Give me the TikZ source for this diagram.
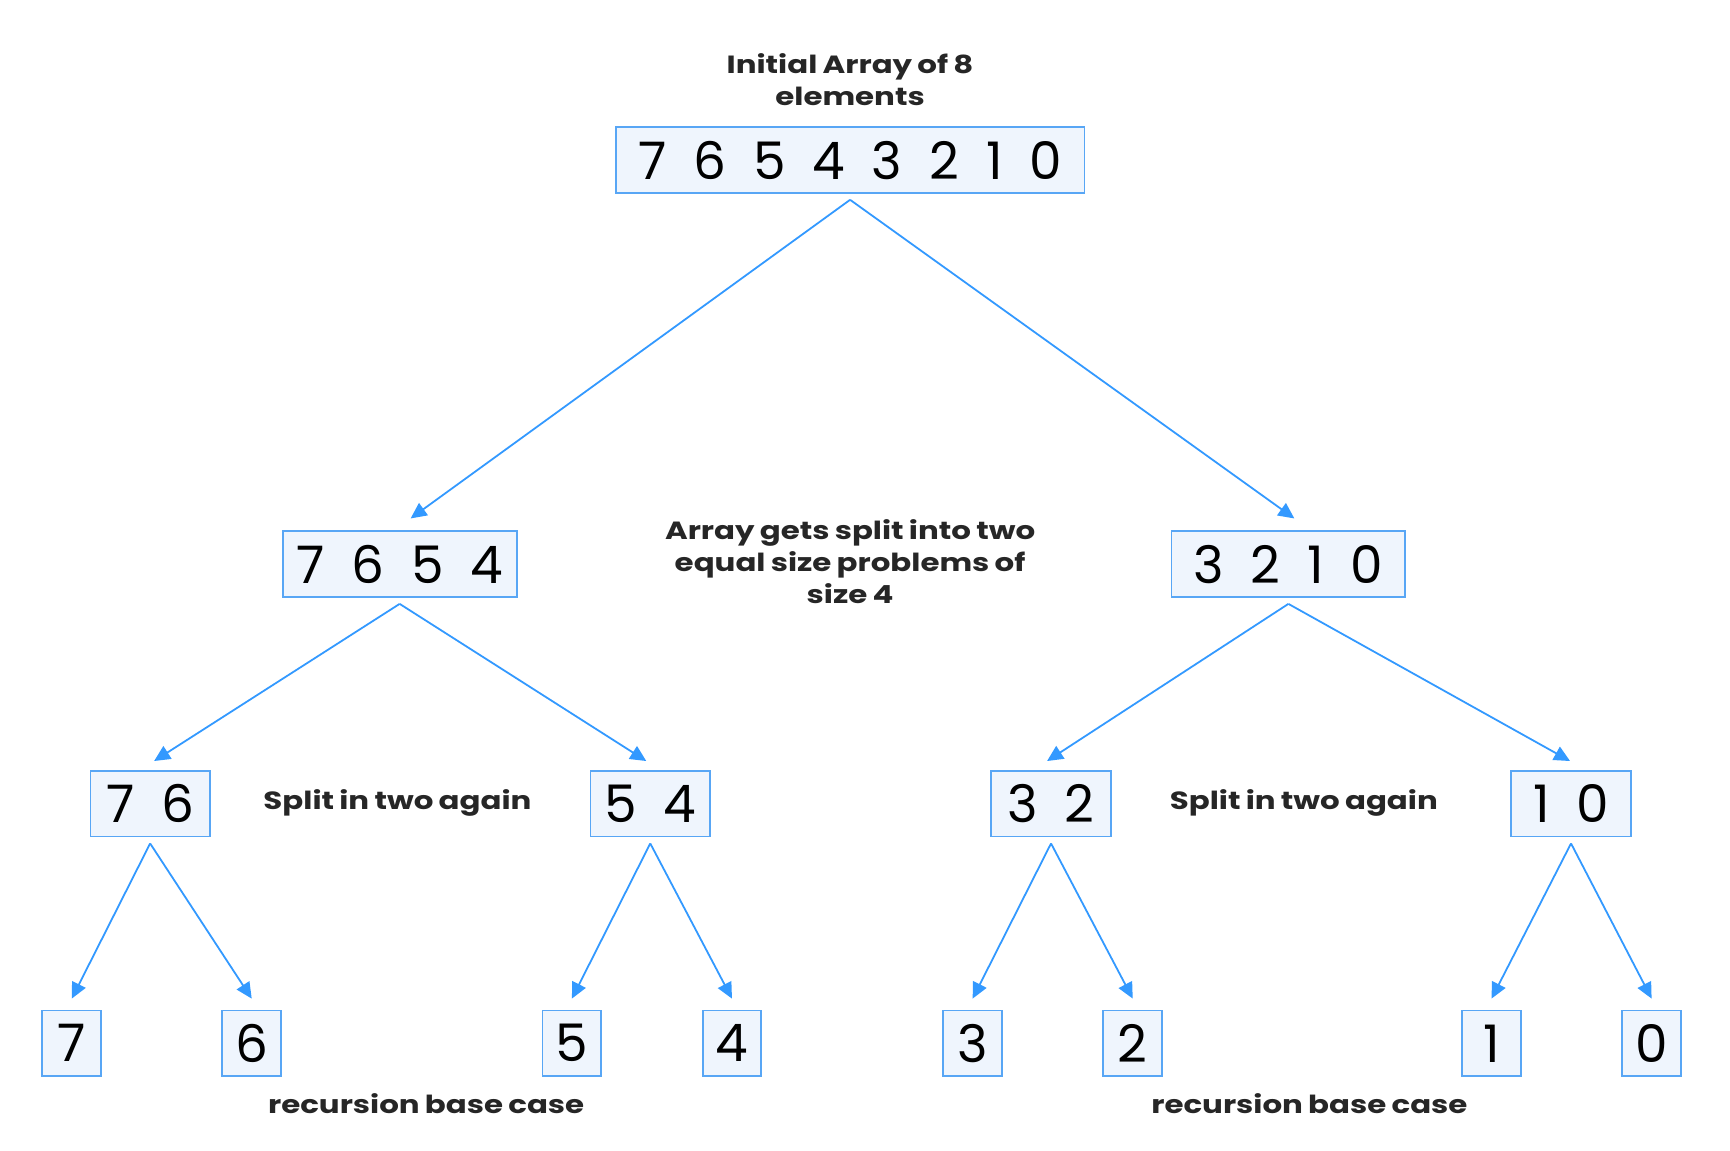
\documentclass[tikz,border=0pt]{standalone}
\usepackage{fontspec}
\setmainfont{Poppins}
\newfontfamily\digitfont[WordSpace=1.95]{Poppins}
\newfontfamily\lblfont[FakeStretch=1.24,WordSpace=0.8]{Poppins}
\usetikzlibrary{arrows.meta}
\definecolor{arrowblue}{RGB}{51,153,255}
\definecolor{boxline}{RGB}{88,166,245}
\definecolor{boxfill}{RGB}{239,245,253}
\tikzset{
  arr/.style={draw=arrowblue, line width=1.8pt, -{Triangle[length=16pt,width=15pt]}},
  arrbox/.style={draw=boxline, fill=boxfill, line width=1.8pt, minimum height=66pt, inner sep=0pt,
    font=\digitfont\fontsize{52}{52}\selectfont},
  lbl/.style={font=\lblfont\bfseries\fontsize{25}{32}\selectfont, align=center, text=black!85, inner sep=0pt},
}
\begin{document}
\begin{tikzpicture}[x=1.109pt,y=-1.109pt]
\useasboundingbox (0,0) rectangle (1567,1042);
% title
\node[lbl] (title) at (770,72) {Initial Array of 8\\elements};
% level 1
\node[arrbox, minimum width=471pt] (top) at (770,145) {7 6 5 4 3 2 1 0};
% level 2
\node[arrbox, minimum width=235pt] (L) at (362,511) {7 6 5 4};
\node[arrbox, minimum width=235pt] (R) at (1167,511) {3 2 1 0};
\node[lbl] (mid) at (770,509) {Array gets split into two\\equal size problems of\\size 4};
% level 3
\node[arrbox, minimum width=120pt] (LL) at (136,728) {7 6};
\node[arrbox, minimum width=120pt] (LR) at (589,728) {5 4};
\node[arrbox, minimum width=120pt] (RL) at (952,728) {3 2};
\node[arrbox, minimum width=120pt] (RR) at (1423,728) {1 0};
\node[lbl] (split1) at (360,727) {Split in two again};
\node[lbl] (split2) at (1181,727) {Split in two again};
% leaves
\node[arrbox, minimum width=59pt] (n7) at (65,945) {7};
\node[arrbox, minimum width=59pt] (n6) at (228,945) {6};
\node[arrbox, minimum width=59pt] (n5) at (518,945) {5};
\node[arrbox, minimum width=59pt] (n4) at (663,945) {4};
\node[arrbox, minimum width=59pt] (n3) at (881,945) {3};
\node[arrbox, minimum width=59pt] (n2) at (1026,945) {2};
\node[arrbox, minimum width=59pt] (n1) at (1351,945) {1};
\node[arrbox, minimum width=59pt] (n0) at (1496,945) {0};
\node[lbl] (base1) at (386,1000) {recursion base case};
\node[lbl] (base2) at (1186,1000) {recursion base case};
% connectors
\draw[arr] ([yshift=-6pt]top.south) -- ([xshift=11pt,yshift=12pt]L.north);
\draw[arr] ([yshift=-6pt]top.south) -- ([xshift=6pt,yshift=12pt]R.north);
\draw[arr] ([yshift=-6pt]L.south) -- ([xshift=4pt,yshift=9pt]LL.north);
\draw[arr] ([yshift=-6pt]L.south) -- ([xshift=-4pt,yshift=9pt]LR.north);
\draw[arr] ([yshift=-6pt]R.south) -- ([xshift=-4pt,yshift=9pt]RL.north);
\draw[arr] ([yshift=-6pt]R.south) -- ([xshift=-1pt,yshift=9pt]RR.north);
\draw[arr] ([yshift=-6pt]LL.south) -- ([yshift=11pt]n7.north);
\draw[arr] ([yshift=-6pt]LL.south) -- ([yshift=11pt]n6.north);
\draw[arr] ([yshift=-6pt]LR.south) -- ([yshift=11pt]n5.north);
\draw[arr] ([yshift=-6pt]LR.south) -- ([yshift=11pt]n4.north);
\draw[arr] ([yshift=-6pt]RL.south) -- ([yshift=11pt]n3.north);
\draw[arr] ([yshift=-6pt]RL.south) -- ([yshift=11pt]n2.north);
\draw[arr] ([yshift=-6pt]RR.south) -- ([yshift=11pt]n1.north);
\draw[arr] ([yshift=-6pt]RR.south) -- ([yshift=11pt]n0.north);
\end{tikzpicture}
\end{document}
